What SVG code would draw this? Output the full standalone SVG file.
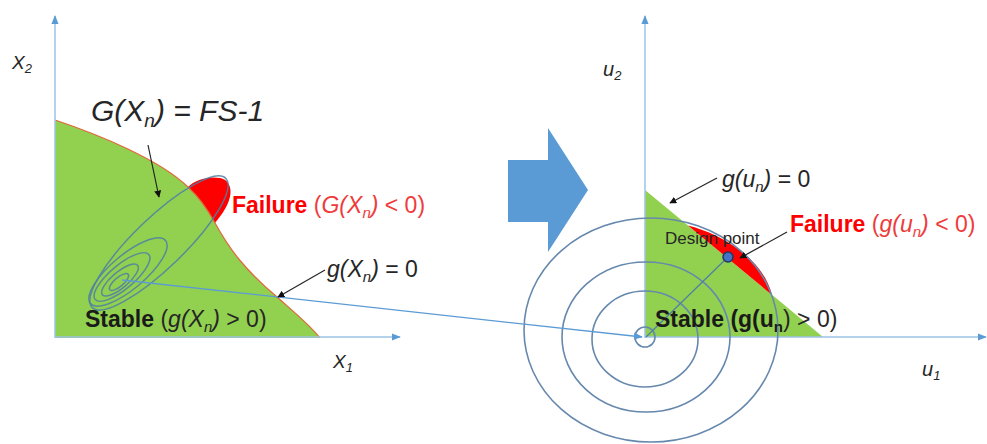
<svg xmlns="http://www.w3.org/2000/svg" width="987" height="444" viewBox="0 0 987 444">
<style>
text{font-family:"Liberation Sans",Arial,sans-serif;fill:#262626}
.lbl{font-size:23px}
.it{font-style:italic}
.b{font-weight:bold}
.red{fill:#ff0000}
.redl{fill:#ef3b3b}
.ax{stroke:#9dc3e6;stroke-width:1.5;fill:none}
.ell{fill:none;stroke:#4f7fa3;stroke-width:1.5;stroke-opacity:0.85}
.circ{fill:none;stroke:#6688ad;stroke-width:1.6}
.ptr{stroke:#262626;stroke-width:1.2;fill:none;marker-end:url(#ah)}
</style>
<defs>
<marker id="ah" viewBox="0 0 10 10" refX="9" refY="5" markerWidth="7" markerHeight="7" orient="auto" markerUnits="userSpaceOnUse"><path d="M0,0 L10,5 L0,10 Z" fill="#111"/></marker>
<marker id="ab" viewBox="0 0 10 10" refX="9" refY="5" markerWidth="9" markerHeight="9" orient="auto" markerUnits="userSpaceOnUse"><path d="M0,1 L10,5 L0,9 Z" fill="#5b9bd5"/></marker>
</defs>

<g id="left-plot">
  <path d="M55,120 C100,135 160,160 188,187 C200,198 208,210 215,223 C230,250 245,270 277,297 C295,313 310,325 320,338 L55,338 Z" fill="#92d050"/>
  <path d="M188,187 C195,180 208,176 220,178 C231,180 233,192 228,203 C224,212 219,218 215,223 C208,210 200,198 188,187 Z" fill="#ff0000"/>
  <path d="M55,120 C100,135 160,160 188,187 C200,198 208,210 215,223 C230,250 245,270 277,297 C295,313 310,325 320,338" fill="none" stroke="#e0673a" stroke-width="1.2"/>
  <line class="ax" x1="55" y1="338" x2="55" y2="16" marker-end="url(#ab)"/>
  <line class="ax" x1="55" y1="337" x2="400" y2="337" marker-end="url(#ab)"/>
  <ellipse class="ell" cx="159" cy="243" rx="93" ry="25" transform="rotate(-44 159 243)"/>
  <ellipse class="ell" cx="128" cy="272" rx="49" ry="17" transform="rotate(-40 128 272)"/>
  <ellipse class="ell" cx="122" cy="277" rx="35" ry="12" transform="rotate(-40 122 277)"/>
  <ellipse class="ell" cx="120" cy="280" rx="23" ry="8" transform="rotate(-40 120 280)"/>
  <ellipse class="ell" cx="119" cy="282" rx="12" ry="4.5" transform="rotate(-40 119 282)"/>
</g>

<g id="transform-arrow">
  <polygon points="508,160 548,160 548,128 588,190 548,252 548,222 508,222" fill="#5b9bd5"/>
</g>

<g id="right-plot">
  <polygon points="645,190 645,337 823,337" fill="#92d050"/>
  <path d="M688,225.5 C715,232 762,255 772,294.9 Z" fill="#ff0000"/>
  <line class="ax" x1="645" y1="338" x2="645" y2="16" marker-end="url(#ab)"/>
  <line class="ax" x1="645" y1="337" x2="986" y2="337" marker-end="url(#ab)"/>
  <ellipse class="circ" cx="645" cy="337" rx="10" ry="10"/>
  <ellipse class="circ" cx="645" cy="339" rx="53" ry="48"/>
  <ellipse class="circ" cx="646" cy="337" rx="84" ry="75"/>
  <ellipse class="circ" cx="651" cy="330" rx="127" ry="112"/>
  <line x1="646" y1="337" x2="728" y2="257" stroke="#4f7fa3" stroke-width="1.2"/>
  <circle id="design-point" cx="728" cy="257" r="5" fill="#4472c4" stroke="#1f3864" stroke-width="1.5"/>
</g>

<g id="connectors">
  <line x1="122" y1="280" x2="642" y2="337" stroke="#5b9bd5" stroke-width="1.3" marker-end="url(#ab)"/>
  <line class="ptr" x1="148" y1="145" x2="159" y2="197"/>
  <line class="ptr" x1="325" y1="270" x2="278" y2="297"/>
  <line class="ptr" x1="717" y1="178" x2="670" y2="203"/>
  <line class="ptr" x1="787" y1="232" x2="740" y2="258"/>
</g>

<g id="labels">
  <text class="it" x="12" y="69" font-size="19">X<tspan font-size="13" dy="4">2</tspan></text>
  <text class="it" x="333" y="368" font-size="19">X<tspan font-size="13" dy="4">1</tspan></text>
  <text class="it" x="603" y="76" font-size="20">u<tspan font-size="13" dy="4">2</tspan></text>
  <text class="it" x="922" y="376" font-size="20">u<tspan font-size="13" dy="4">1</tspan></text>

  <text class="it" x="91" y="121" font-size="30">G(X<tspan font-size="19" dy="6">n</tspan><tspan dy="-6">) = FS-1</tspan></text>

  <text class="lbl" x="232" y="213"><tspan class="b red">Failure </tspan><tspan class="redl">(</tspan><tspan class="redl it">G(X</tspan><tspan class="redl it" font-size="15" dy="5">n</tspan><tspan class="redl it" dy="-5">)</tspan><tspan class="redl"> &lt; 0)</tspan></text>

  <text class="lbl" x="327" y="277"><tspan class="it">g(X</tspan><tspan class="it" font-size="15" dy="5">n</tspan><tspan class="it" dy="-5">)</tspan> = 0</text>

  <text class="lbl" x="85" y="327"><tspan class="b" fill="#1a1a1a">Stable </tspan>(<tspan class="it">g(X</tspan><tspan class="it" font-size="15" dy="5">n</tspan><tspan class="it" dy="-5">)</tspan> &gt; 0)</text>

  <text class="lbl" x="722" y="187"><tspan class="it">g(u</tspan><tspan class="it" font-size="15" dy="5">n</tspan><tspan class="it" dy="-5">)</tspan> = 0</text>

  <text class="lbl" x="790" y="232"><tspan class="b red">Failure </tspan><tspan class="redl">(</tspan><tspan class="redl it">g(u</tspan><tspan class="redl it" font-size="15" dy="5">n</tspan><tspan class="redl it" dy="-5">)</tspan><tspan class="redl"> &lt; 0)</tspan></text>

  <text class="lbl" x="655" y="327"><tspan class="b" fill="#1a1a1a">Stable (g(u</tspan><tspan class="b" fill="#1a1a1a" font-size="15" dy="5">n</tspan><tspan dy="-5">) &gt; 0)</tspan></text>

  <text x="665" y="244" font-size="17" fill="#111">Design point</text>
</g>
</svg>
